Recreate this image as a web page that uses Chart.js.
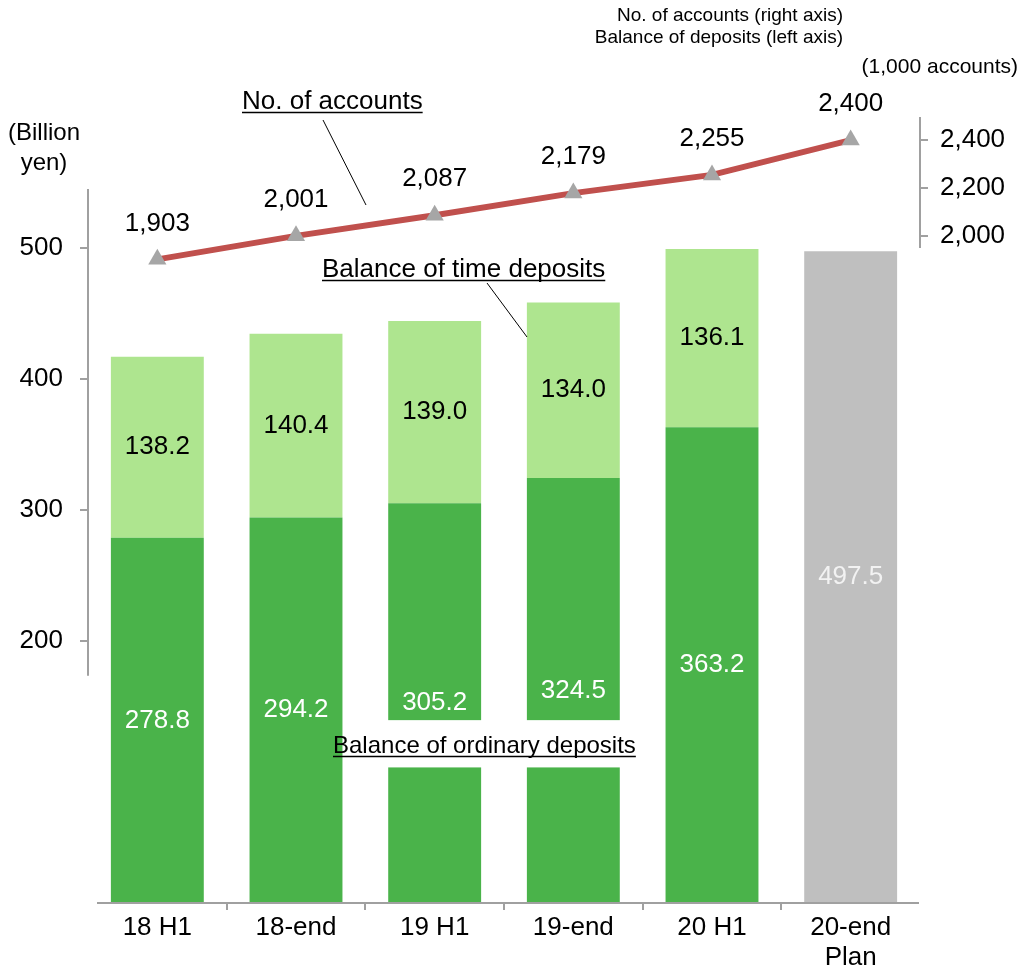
<!DOCTYPE html>
<html>
<head>
<meta charset="utf-8">
<script src="https://cdn.jsdelivr.net/npm/chart.js@4"></script>
<style>
  body { margin: 0; background: #fff; }
  #wrap { width: 1021px; height: 968px; }
</style>
</head>
<body>
<div id="wrap"><canvas id="chartCanvas" width="1021" height="968"></canvas></div>
<script>
// ---------------- Data ----------------
const categories = ["18 H1", "18-end", "19 H1", "19-end", "20 H1", ["20-end", "Plan"]];
const ordinaryDeposits = [278.8, 294.2, 305.2, 324.5, 363.2, null];
const timeDeposits = [138.2, 140.4, 139.0, 134.0, 136.1, null];
const planDeposits = [null, null, null, null, null, 497.5];
const accounts = [1903, 2001, 2087, 2179, 2255, 2400];
const leftTicks = [200, 300, 400, 500];
const rightTicks = [2000, 2200, 2400];

const FONT = "'Liberation Sans', Arial, sans-serif";
const AXIS_GREY = "#A0A0A0";

// ---------------- Helpers ----------------
function fmt(v) {
  return v.toLocaleString("en-US");
}

function underlinedText(ctx, text, x, y, size) {
  ctx.font = `${size}px ${FONT}`;
  ctx.fillStyle = "#000";
  ctx.textAlign = "left";
  ctx.textBaseline = "alphabetic";
  ctx.fillText(text, x, y);
  const w = ctx.measureText(text).width;
  ctx.strokeStyle = "#000";
  ctx.lineWidth = 1.5;
  ctx.beginPath();
  ctx.moveTo(x, y + 3.5);
  ctx.lineTo(x + w, y + 3.5);
  ctx.stroke();
}

function leader(ctx, x1, y1, x2, y2) {
  ctx.strokeStyle = "#000";
  ctx.lineWidth = 1;
  ctx.beginPath();
  ctx.moveTo(x1, y1);
  ctx.lineTo(x2, y2);
  ctx.stroke();
}

// ---------------- Plugin: labels, broken axes, notes ----------------
const decorations = {
  id: "decorations",
  afterDatasetsDraw(chart) {
    const ctx = chart.ctx;
    const { y, y1 } = chart.scales;
    const area = chart.chartArea;
    ctx.save();

    // partial axis lines (axis looks "broken")
    ctx.strokeStyle = AXIS_GREY;
    ctx.lineWidth = 2;
    ctx.beginPath();
    ctx.moveTo(area.left, y.getPixelForValue(545));
    ctx.lineTo(area.left, y.getPixelForValue(173.5));
    ctx.moveTo(area.right, y1.getPixelForValue(2496));
    ctx.lineTo(area.right, y1.getPixelForValue(1950));
    // category axis, starts a little right of the value axis
    ctx.moveTo(area.left + 9, area.bottom);
    ctx.lineTo(area.right - 1, area.bottom);
    ctx.stroke();

    // white gap in the 19 H1 / 19-end bars for the ordinary deposits note
    const ordMeta = chart.getDatasetMeta(0);
    ctx.fillStyle = "#fff";
    [2, 3].forEach((i) => {
      const el = ordMeta.data[i];
      const top = y.getPixelForValue(139.6);
      const bot = y.getPixelForValue(103.5);
      ctx.fillRect(el.x - el.width / 2 - 1, top, el.width + 2, bot - top);
    });

    // bar value labels
    ctx.textAlign = "center";
    ctx.textBaseline = "middle";
    ctx.font = `26px ${FONT}`;
    const barColors = ["#fff", "#000", "#F2F2F2"];
    [0, 1, 2].forEach((d) => {
      const meta = chart.getDatasetMeta(d);
      const vals = chart.data.datasets[d].data;
      meta.data.forEach((el, i) => {
        if (vals[i] == null) return;
        ctx.fillStyle = barColors[d];
        ctx.fillText(vals[i].toFixed(1), el.x, (el.y + el.base) / 2);
      });
    });

    // line value labels
    const lineMeta = chart.getDatasetMeta(3);
    ctx.fillStyle = "#000";
    lineMeta.data.forEach((pt, i) => {
      ctx.fillText(fmt(accounts[i]), pt.x, pt.y - 36);
    });

    // series notes
    underlinedText(ctx, "No. of accounts", 242, 109, 26);
    leader(ctx, 323, 120, 366, 205);
    underlinedText(ctx, "Balance of time deposits", 322, 277, 26);
    leader(ctx, 487, 283, 527, 337);
    underlinedText(ctx, "Balance of ordinary deposits", 333, 753, 24);

    // legend text & units
    ctx.fillStyle = "#000";
    ctx.textBaseline = "middle";
    ctx.textAlign = "right";
    ctx.font = `19px ${FONT}`;
    ctx.fillText("No. of accounts (right axis)", 843, 16);
    ctx.fillText("Balance of deposits (left axis)", 843, 38);
    ctx.font = `21px ${FONT}`;
    ctx.fillText("(1,000 accounts)", 1018, 67);
    ctx.textAlign = "center";
    ctx.font = `24px ${FONT}`;
    ctx.fillText("(Billion", 44, 133);
    ctx.fillText("yen)", 44, 163);

    ctx.restore();
  },
};

// ---------------- Chart ----------------
const ctx = document.getElementById("chartCanvas").getContext("2d");

new Chart(ctx, {
  data: {
    labels: categories,
    datasets: [
      {
        type: "bar",
        label: "Balance of ordinary deposits",
        data: ordinaryDeposits,
        backgroundColor: "#4AB34A",
        stack: "dep",
        order: 2,
      },
      {
        type: "bar",
        label: "Balance of time deposits",
        data: timeDeposits,
        backgroundColor: "#AEE58F",
        stack: "dep",
        order: 2,
      },
      {
        type: "bar",
        label: "Plan",
        data: planDeposits,
        backgroundColor: "#BFBFBF",
        stack: "dep",
        order: 2,
      },
      {
        type: "line",
        label: "No. of accounts",
        data: accounts,
        yAxisID: "y1",
        borderColor: "#C0504D",
        borderWidth: 6,
        pointStyle: "triangle",
        pointRadius: 10.5,
        pointBackgroundColor: "#A6A6A6",
        pointBorderWidth: 0,
        tension: 0,
        order: 1,
      },
    ],
  },
  options: {
    responsive: false,
    animation: false,
    events: [],
    layout: { padding: { top: 100, left: 0, right: 0, bottom: 0 } },
    datasets: {
      bar: { categoryPercentage: 1, barPercentage: 0.67, grouped: false },
    },
    plugins: {
      legend: { display: false },
      tooltip: { enabled: false },
    },
    scales: {
      x: {
        stacked: true,
        grid: {
          offset: true,
          drawOnChartArea: false,
          tickLength: 7,
          // no tick marks at the two ends of the category axis
          color: (c) => (c.type !== "tick" || c.index === 0 ? "rgba(0,0,0,0)" : AXIS_GREY),
          lineWidth: 2,
        },
        border: { display: false },
        ticks: {
          color: "#000",
          font: { family: FONT, size: 26, lineHeight: 1.15 },
          padding: 3,
          maxRotation: 0,
          autoSkip: false,
        },
        afterFit: (s) => { s.height = 65; },
      },
      y: {
        stacked: true,
        position: "left",
        min: 0,
        max: 613,
        afterBuildTicks: (s) => { s.ticks = leftTicks.map((v) => ({ value: v })); },
        grid: {
          drawOnChartArea: false,
          tickLength: 8,
          color: AXIS_GREY,
          lineWidth: 2,
        },
        border: { display: false },
        ticks: {
          color: "#000",
          font: { family: FONT, size: 26 },
          padding: 17,
        },
        afterFit: (s) => { s.width = 88; },
      },
      y1: {
        position: "right",
        min: -779,
        max: 2567,
        afterBuildTicks: (s) => { s.ticks = rightTicks.map((v) => ({ value: v })); },
        grid: {
          drawOnChartArea: false,
          tickLength: 8,
          color: AXIS_GREY,
          lineWidth: 2,
        },
        border: { display: false },
        ticks: {
          color: "#000",
          font: { family: FONT, size: 26 },
          padding: 12,
          callback: (v) => fmt(v),
        },
        afterFit: (s) => { s.width = 101; },
      },
    },
  },
  plugins: [decorations],
});
</script>
</body>
</html>
